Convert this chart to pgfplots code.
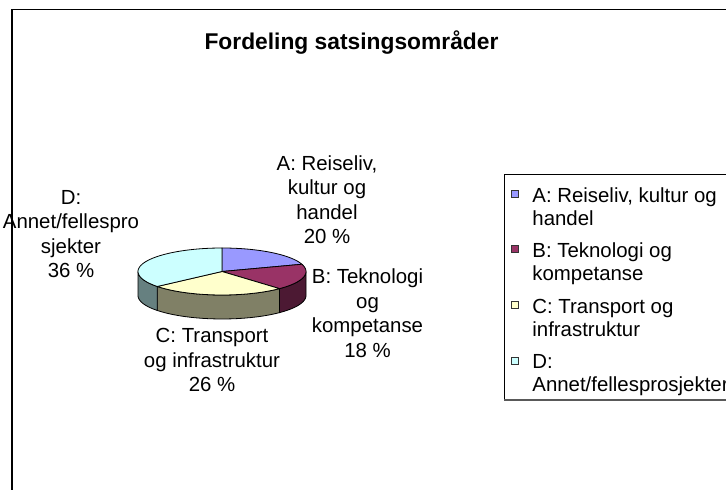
\documentclass[border=0pt]{standalone}
\usepackage{pgfplots}
\pgfplotsset{compat=1.18}
\usepackage{pgfplotstable}
\usepackage{fontspec}
\setmainfont{Liberation Sans}

\definecolor{cA}{HTML}{9999FF}
\definecolor{cB}{HTML}{993366}
\definecolor{cC}{HTML}{FFFFCC}
\definecolor{cD}{HTML}{CCFFFF}
\definecolor{sB}{HTML}{4C1933}
\definecolor{sC}{HTML}{808066}
\definecolor{sD}{HTML}{668080}

\pgfplotstableread{
label value
A 20
B 18
C 26
D 36
}\piedata

\pgfplotstablegetelem{0}{value}\of\piedata\edef\vA{\pgfplotsretval}
\pgfplotstablegetelem{1}{value}\of\piedata\edef\vB{\pgfplotsretval}
\pgfplotstablegetelem{2}{value}\of\piedata\edef\vC{\pgfplotsretval}
\pgfplotstablegetelem{3}{value}\of\piedata\edef\vD{\pgfplotsretval}

\pgfmathsetmacro\tA{0}
\pgfmathsetmacro\tB{\tA+3.6*\vA}
\pgfmathsetmacro\tC{\tB+3.6*\vB}
\pgfmathsetmacro\tD{\tC+3.6*\vC}
\pgfmathsetmacro\tE{\tD+3.6*\vD}

% pie geometry (in pixel units of the axis)
\def\cx{222}
\def\cy{271.5}
\def\rx{84}
\def\ry{23.5}
\def\dd{24}

% top sector: center -> arc -> center
\newcommand{\sector}[3]{%
  \addplot[fill=#3, draw=black, line width=0.4pt, samples at={0,...,42}, variable=\k, forget plot]
  ({\cx + \rx*((\k>0)*(\k<42))*sin(#1+(#2-#1)*(\k-1)/40)},
   {\cy - \ry*((\k>0)*(\k<42))*cos(#1+(#2-#1)*(\k-1)/40)});
}
% side wall between angles #1 and #2
\newcommand{\wall}[3]{%
  \addplot[fill=#3, draw=black, line width=0.4pt, samples at={0,...,42}, variable=\k, forget plot]
  ({\cx + \rx*sin(#1+(#2-#1)*((\k<21)*\k/20 + (\k>20)*(\k<42)*(41-\k)/20))},
   {\cy - \ry*cos(#1+(#2-#1)*((\k<21)*\k/20 + (\k>20)*(\k<42)*(41-\k)/20)) + \dd*(\k>20)*(\k<42)});
}

\begin{document}
\begin{tikzpicture}
\begin{axis}[
  at={(0pt,0pt)}, anchor=south west,
  width=363pt, height=245pt, scale only axis,
  xmin=0, xmax=726, ymin=0, ymax=490, y dir=reverse,
  hide axis, clip=false,
]
% outer chart frame
\draw[line width=0.75pt] (axis cs:12,500) -- (axis cs:12,9.5) -- (axis cs:740,9.5);

% title
\node[anchor=base, inner sep=0pt, font=\fontsize{11.4pt}{13pt}\selectfont\bfseries]
  at (axis cs:351.5,50) {Fordeling satsingsområder};

% side walls (front half only)
\pgfmathsetmacro\wBs{max(\tB,90)}\pgfmathsetmacro\wBe{min(\tC,270)}
\pgfmathsetmacro\wCs{max(\tC,90)}\pgfmathsetmacro\wCe{min(\tD,270)}
\pgfmathsetmacro\wDs{max(\tD,90)}\pgfmathsetmacro\wDe{min(\tE,270)}
\wall{\wBs}{\wBe}{sB}
\wall{\wCs}{\wCe}{sC}
\wall{\wDs}{\wDe}{sD}

% top faces
\sector{\tA}{\tB}{cA}
\sector{\tB}{\tC}{cB}
\sector{\tC}{\tD}{cC}
\sector{\tD}{\tE}{cD}

% data labels
\tikzset{lbl/.style={anchor=north, inner sep=0pt, align=center, font=\fontsize{10.2pt}{12.25pt}\selectfont}}
\node[lbl] at (axis cs:327,155) {A: Reiseliv,\\kultur og\\handel\\20 \%};
\node[lbl] at (axis cs:367.5,268.5) {B: Teknologi\\og\\kompetanse\\18 \%};
\node[lbl] at (axis cs:212,328) {C: Transport\\og infrastruktur\\26 \%};
\node[lbl] at (axis cs:71,190) {D:\\Annet/fellespro\\sjekter\\36 \%};

% legend
\draw[line width=0.5pt] (axis cs:740,175) -- (axis cs:504,175) -- (axis cs:504,400);
\draw[line width=1pt, black!65] (axis cs:504,400.5) -- (axis cs:740,400.5);
\tikzset{leg/.style={anchor=north west, inner sep=0pt, align=left, font=\fontsize{10.2pt}{11.5pt}\selectfont}}
\draw[fill=cA, draw=black!80, line width=0.35pt] (axis cs:511,190) rectangle (axis cs:518,197);
\draw[fill=cB, draw=black!80, line width=0.35pt] (axis cs:511,245) rectangle (axis cs:518,252);
\draw[fill=cC, draw=black!80, line width=0.35pt] (axis cs:511,301.5) rectangle (axis cs:518,308.5);
\draw[fill=cD, draw=black!80, line width=0.35pt] (axis cs:511,357) rectangle (axis cs:518,364);
\node[leg] at (axis cs:532,187) {A: Reiseliv, kultur og\\handel};
\node[leg] at (axis cs:532,242) {B: Teknologi og\\kompetanse};
\node[leg] at (axis cs:532,298.5) {C: Transport og\\infrastruktur};
\node[leg] at (axis cs:532,354) {D:\\Annet/fellesprosjekter};
\end{axis}
\pgfresetboundingbox
\useasboundingbox (0pt,0pt) rectangle (363pt,245pt);
\end{tikzpicture}
\end{document}
